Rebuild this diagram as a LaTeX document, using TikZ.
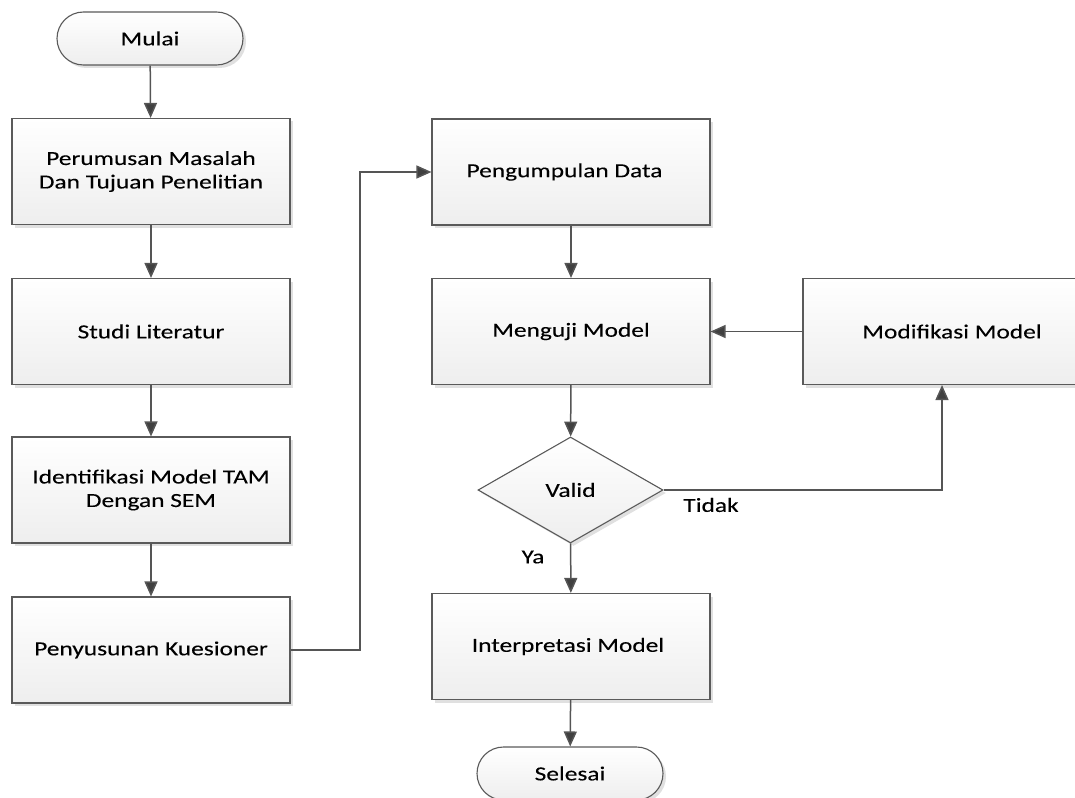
\documentclass[tikz,border=0pt]{standalone}
\usepackage{fontspec}
\setmainfont{Carlito}[FakeStretch=1.27,FakeBold=0.15]
\usetikzlibrary{arrows.meta,shapes.geometric,shapes.misc,shadows,positioning}
\definecolor{edge}{HTML}{5A5A5A}
\definecolor{conn}{HTML}{555555}
\definecolor{tipc}{HTML}{404040}
\definecolor{boxbot}{HTML}{EEEEEE}
\tikzset{
  base/.style={draw=edge, line width=1.1pt, top color=white, bottom color=boxbot,
    font=\fontsize{20}{23.5}\selectfont, align=center, inner sep=0pt, text=black,
    drop shadow={shadow xshift=3pt, shadow yshift=-3pt, fill=black, opacity=0.12}},
  procbox/.style={base, rectangle, minimum width=278pt, minimum height=106pt},
  termbox/.style={base, rounded rectangle, minimum width=186pt, minimum height=53pt},
  decbox/.style={base, diamond, aspect=1.75, minimum width=185pt, minimum height=106pt},
  conn/.style={draw=conn, line width=1.5pt, -{Triangle[length=15pt,width=13pt,fill=tipc]}},
  lbl/.style={font=\fontsize{20}{23.5}\selectfont, inner sep=0pt, text=black}
}
\begin{document}
\begin{tikzpicture}[x=1pt,y=-1pt]
\useasboundingbox (0,0) rectangle (1075,797);
\node[termbox] (mulai) at (150,38.5) {Mulai};
\node[procbox] (p1) at (151,171.5) {Perumusan Masalah\\Dan Tujuan Penelitian};
\node[procbox] (p2) at (151,331.5) {Studi Literatur};
\node[procbox] (p3) at (151,490) {Identifikasi Model TAM\\Dengan SEM};
\node[procbox] (p4) at (151,650) {Penyusunan Kuesioner};
\node[procbox] (q1) at (571,172) {};
\node[lbl] (q1t) at (564.5,172) {Pengumpulan Data};
\node[procbox] (q2) at (571,331.5) {Menguji Model};
\node[decbox] (valid) at (570.5,490) {};
\node[lbl] (validt) at (570.5,490) {Valid};
\node[procbox] (q3) at (571,646.5) {};
\node[lbl] (q3t) at (568,646.5) {Interpretasi Model};
\node[termbox] (selesai) at (570,773.5) {Selesai};
\node[procbox] (mod) at (942,331.5) {};
\node[lbl] (modt) at (952,331.5) {Modifikasi Model};
\coordinate (bend) at (360,650);
\draw[conn] (mulai) -- (p1);
\draw[conn] (p1) -- (p2);
\draw[conn] (p2) -- (p3);
\draw[conn] (p3) -- (p4);
\draw[conn] (p4.east) -- (bend) |- (q1.west);
\draw[conn] (q1) -- (q2);
\draw[conn] (q2) -- (valid);
\draw[conn] (valid) -- (q3);
\draw[conn] (q3) -- (selesai);
\draw[conn] (valid.east) -| (mod.south);
\draw[conn] (mod.west) -- (q2.east);
\node[lbl] (tidak) at (711,505) {Tidak};
\node[lbl] (ya) at (533,557) {Ya};
\end{tikzpicture}
\end{document}
